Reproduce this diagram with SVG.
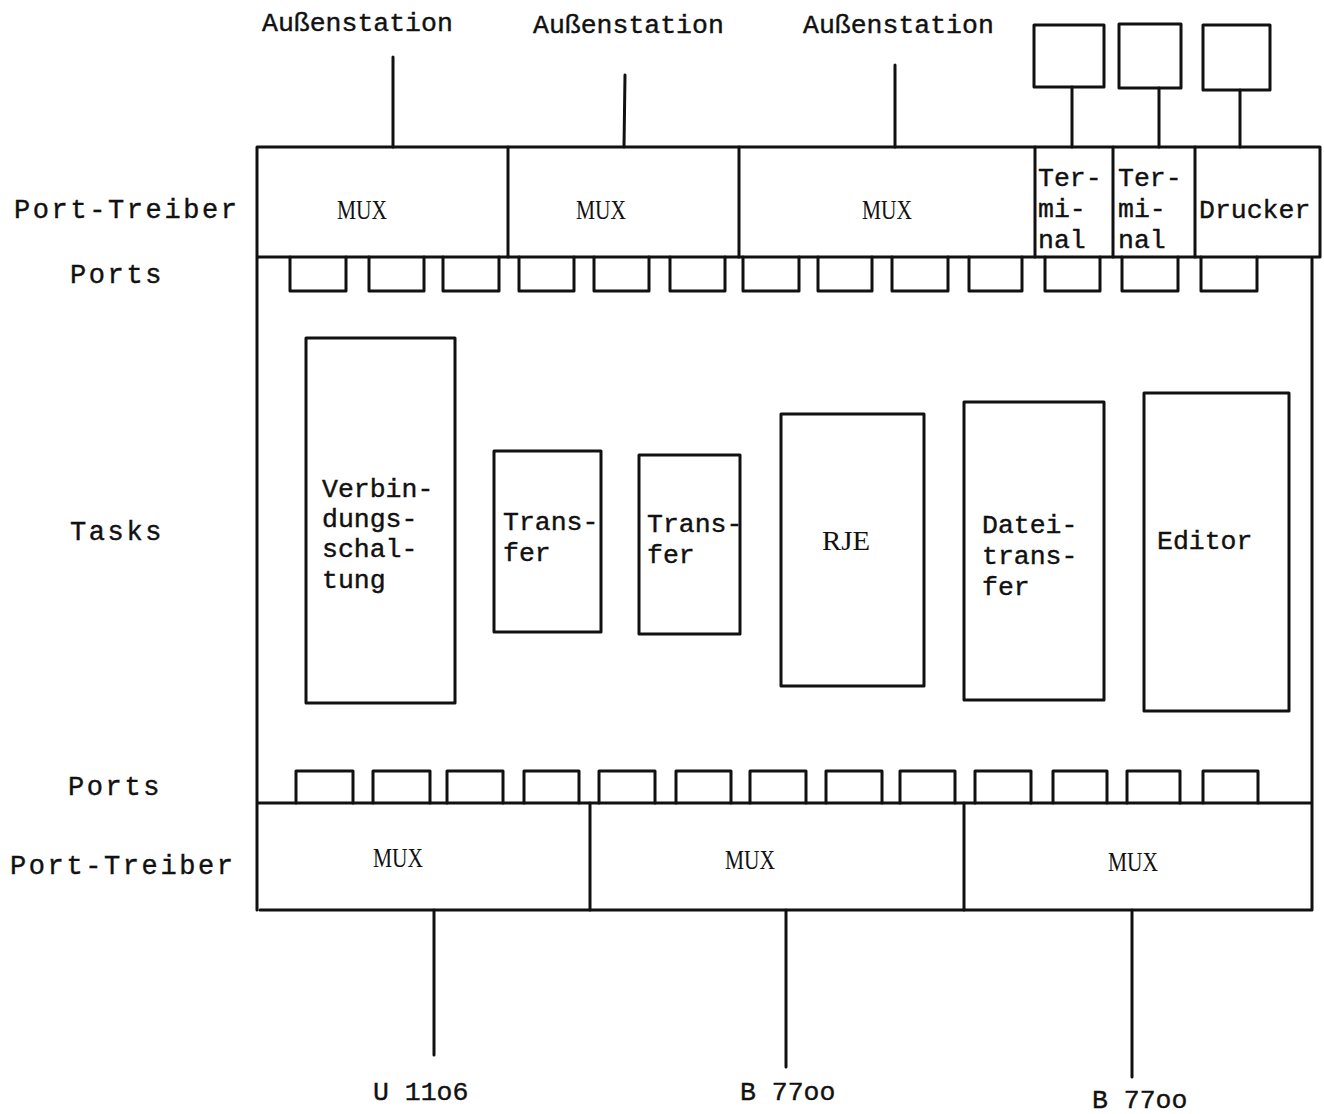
<svg xmlns="http://www.w3.org/2000/svg" width="1324" height="1114" viewBox="0 0 1324 1114">
<style>
.ln{stroke:#111;stroke-width:3;fill:none;stroke-linecap:round;stroke-linejoin:round}
.t{font-family:"Liberation Mono","Courier New",monospace;font-size:26.5px;fill:#111;stroke:#111;stroke-width:0.4}
.lab{font-family:"Liberation Mono","Courier New",monospace;font-size:27px;letter-spacing:2.6px;fill:#111;stroke:#111;stroke-width:0.4}
.s{font-family:"Liberation Serif","Times New Roman",serif;font-size:28px;fill:#111}
</style>
<rect width="1324" height="1114" fill="#fff"/>
<g id="labels">
<text class="lab" x="14" y="218">Port-Treiber</text>
<text class="lab" x="70" y="283">Ports</text>
<text class="lab" x="70" y="540">Tasks</text>
<text class="lab" x="68" y="795">Ports</text>
<text class="lab" x="10" y="874">Port-Treiber</text>
</g>
<g id="frame">
<path class="ln" d="M257,147 H1320 V257 M257,147 V910 M257,257 H1320 M1312,257 V803 M257,803 H1312 V910 H260"/>
</g>
<g id="top-drivers">
<g id="mux-top-1"><text class="s" x="337" y="219" textLength="50" lengthAdjust="spacingAndGlyphs">MUX</text></g>
<g id="mux-top-2"><path class="ln" d="M508,147 V257"/><text class="s" x="576" y="219" textLength="50" lengthAdjust="spacingAndGlyphs">MUX</text></g>
<g id="mux-top-3"><path class="ln" d="M739,147 V257"/><text class="s" x="862" y="219" textLength="50" lengthAdjust="spacingAndGlyphs">MUX</text></g>
<g id="terminal-1"><path class="ln" d="M1035,147 V257"/><text class="t" x="1038" y="186">Ter-</text><text class="t" x="1038" y="217">mi-</text><text class="t" x="1038" y="248">nal</text></g>
<g id="terminal-2"><path class="ln" d="M1113,147 V257"/><text class="t" x="1118" y="186">Ter-</text><text class="t" x="1118" y="217">mi-</text><text class="t" x="1118" y="248">nal</text></g>
<g id="drucker"><path class="ln" d="M1195,147 V257"/><text class="t" x="1199" y="218">Drucker</text></g>
</g>
<g id="top-ports">
<path class="ln" d="M290,257 V291 H346 V257 M369,257 V291 H424 V257 M443,257 V291 H499 V257 M519,257 V291 H574 V257 M594,257 V291 H649 V257 M670,257 V291 H725 V257 M743,257 V291 H799 V257 M818,257 V291 H872 V257 M892,257 V291 H948 V257 M969,257 V291 H1022 V257 M1045,257 V291 H1100 V257 M1122,257 V291 H1178 V257 M1201,257 V291 H1257 V257"/>
</g>
<g id="external-top">
<g id="aussen-1"><text class="t" x="262" y="31">Außenstation</text></g>
<g id="aussen-2"><text class="t" x="533" y="33">Außenstation</text></g>
<g id="aussen-3"><text class="t" x="803" y="33">Außenstation</text></g>
<g id="term-box-1"><rect class="ln" x="1034" y="25" width="70" height="62"/></g>
<g id="term-box-2"><rect class="ln" x="1119" y="24" width="62" height="64"/></g>
<g id="printer-box"><rect class="ln" x="1203" y="25" width="67" height="65"/></g>
</g>
<g id="tasks">
<g id="verbindung"><rect class="ln" x="306" y="338" width="149" height="365"/><text class="t" x="322" y="497">Verbin-</text><text class="t" x="322" y="527">dungs-</text><text class="t" x="322" y="557">schal-</text><text class="t" x="322" y="588">tung</text></g>
<g id="transfer-1"><rect class="ln" x="494" y="451" width="107" height="181"/><text class="t" x="503" y="530">Trans-</text><text class="t" x="503" y="561">fer</text></g>
<g id="transfer-2"><rect class="ln" x="639" y="455" width="101" height="179"/><text class="t" x="647" y="532">Trans-</text><text class="t" x="647" y="563">fer</text></g>
<g id="rje"><rect class="ln" x="781" y="414" width="143" height="272"/><text class="s" x="822" y="550" textLength="48" lengthAdjust="spacingAndGlyphs">RJE</text></g>
<g id="dateitransfer"><rect class="ln" x="964" y="402" width="140" height="298"/><text class="t" x="982" y="533">Datei-</text><text class="t" x="982" y="564">trans-</text><text class="t" x="982" y="595">fer</text></g>
<g id="editor"><rect class="ln" x="1144" y="393" width="145" height="318"/><text class="t" x="1157" y="549">Editor</text></g>
</g>
<g id="bottom-ports">
<path class="ln" d="M296,803 V771 H353 V803 M373,803 V771 H430 V803 M447,803 V771 H503 V803 M524,803 V771 H579 V803 M599,803 V771 H655 V803 M676,803 V771 H731 V803 M750,803 V771 H806 V803 M826,803 V771 H882 V803 M900,803 V771 H955 V803 M975,803 V771 H1031 V803 M1053,803 V771 H1107 V803 M1127,803 V771 H1180 V803 M1203,803 V771 H1258 V803"/>
</g>
<g id="bottom-drivers">
<g id="mux-bot-1"><text class="s" x="373" y="867" textLength="50" lengthAdjust="spacingAndGlyphs">MUX</text></g>
<g id="mux-bot-2"><path class="ln" d="M590,803 V910"/><text class="s" x="725" y="869" textLength="50" lengthAdjust="spacingAndGlyphs">MUX</text></g>
<g id="mux-bot-3"><path class="ln" d="M964,803 V910"/><text class="s" x="1108" y="871" textLength="50" lengthAdjust="spacingAndGlyphs">MUX</text></g>
</g>
<g id="external-bottom">
<g id="u1106"><text class="t" x="373" y="1100">U 11o6</text></g>
<g id="b7700-1"><text class="t" x="740" y="1100">B 77oo</text></g>
<g id="b7700-2"><text class="t" x="1092" y="1108">B 77oo</text></g>
</g>
<g id="connectors">
<path class="ln" d="M393,57 V147 M625,75 L624,147 M895,65 V147 M1072,87 V147 M1159,88 V147 M1240,90 V147 M434,910 V1055 M786,910 V1067 M1132,910 V1077"/>
</g>
</svg>
